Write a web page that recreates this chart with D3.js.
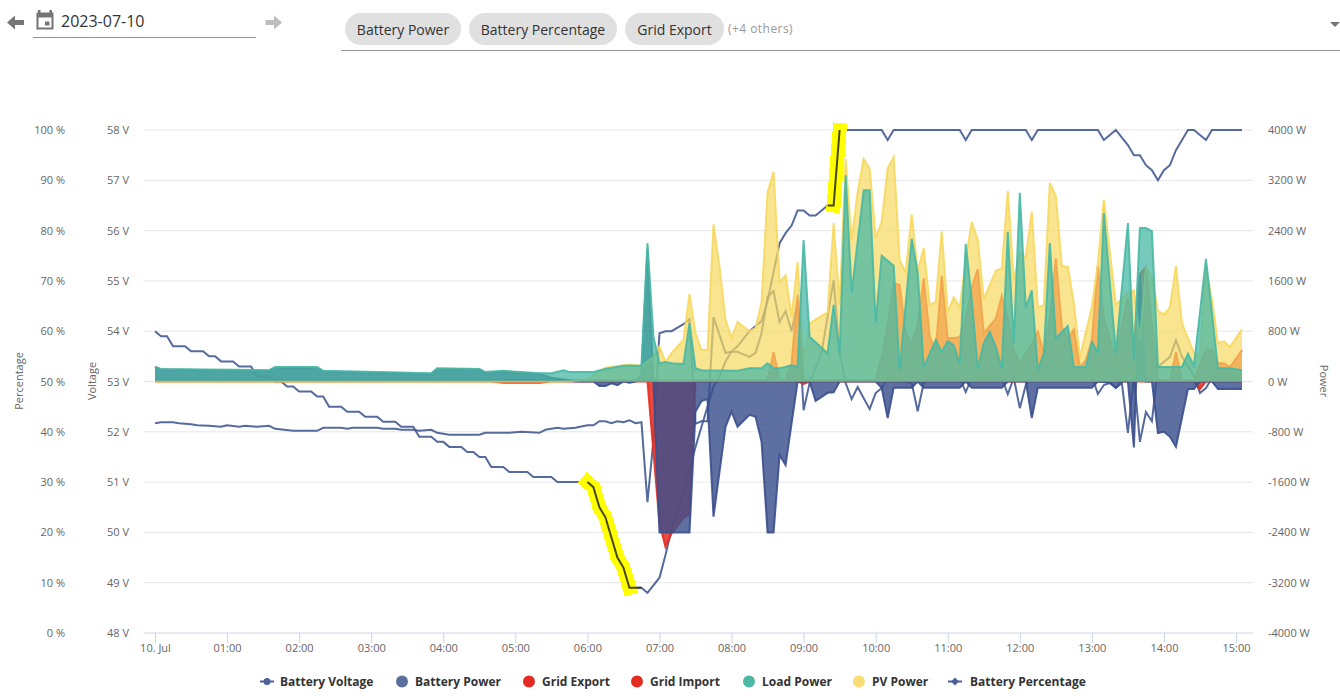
<!DOCTYPE html>
<html>
<head>
<meta charset="utf-8">
<script src="https://cdnjs.cloudflare.com/ajax/libs/d3/7.8.5/d3.min.js"></script>
<style>
html, body { margin: 0; padding: 0; background: #fff; overflow: hidden; }
text { font-family: "Open Sans", sans-serif; }
.axis text { font-size: 11px; fill: #666; }
.axis .domain { display: none; }
.legend text { font-size: 12px; font-weight: 700; fill: #333; }
</style>
</head>
<body>
<div id="chart"></div>
<script>
var selectedDate = '2023-07-10',
    chips = ['Battery Power', 'Battery Percentage', 'Grid Export'],
    othersLabel = '(+4 others)',
    hourLabels = ['10. Jul', '01:00', '02:00', '03:00', '04:00', '05:00', '06:00', '07:00', '08:00', '09:00', '10:00', '11:00', '12:00', '13:00', '14:00', '15:00'],
    percentTicks = [0, 10, 20, 30, 40, 50, 60, 70, 80, 90, 100],
    voltageTicks = [48, 49, 50, 51, 52, 53, 54, 55, 56, 57, 58],
    powerTicks = [-4000, -3200, -2400, -1600, -800, 0, 800, 1600, 2400, 3200, 4000];

// all series are [minutes since midnight, value]
var batteryVoltage = [[0,52.17],[5,52.19],[15,52.19],[20,52.17],[30,52.15],[35,52.13],[45,52.12],[55,52.10],[60,52.13],[70,52.10],[75,52.12],[85,52.10],[95,52.12],[100,52.06],[115,52.02],[135,52.02],[140,52.08],[155,52.08],[160,52.06],[165,52.08],[185,52.08],[190,52.06],[200,52.06],[205,52.04],[215,52.04],[220,52.02],[230,52.04],[235,51.98],[245,51.94],[270,51.94],[275,51.98],[295,51.98],[305,52.0],[320,51.98],[325,52.04],[335,52.08],[340,52.06],[350,52.08],[360,52.13],[365,52.13],[370,52.21],[375,52.21],[380,52.17],[385,52.21],[390,52.19],[395,52.23],[400,52.17],[405,52.19],[410,50.60],[415,51.84],[420,53.96],[425,54.0],[430,54.0],[440,54.14],[445,54.24],[450,52.16],[455,52.21],[460,52.21],[465,54.28],[475,53.57],[480,53.59],[485,53.59],[495,53.49],[500,53.57],[505,53.96],[510,54.68],[515,54.80],[520,54.18],[525,54.40],[530,54.0],[535,54.58],[540,52.43],[545,52.97],[555,53.57],[565,55.02],[570,53.57],[575,52.97],[580,52.65],[585,52.89],[595,52.45],[600,52.77],[605,52.87],[610,53.07],[630,52.97],[635,52.41],[640,52.97],[645,53.07],[670,53.07],[675,52.79],[680,53.07],[705,53.07],[710,52.75],[715,53.07],[720,52.47],[725,52.93],[730,53.11],[780,53.11],[785,52.75],[790,52.93],[795,52.97],[800,52.87],[805,52.97],[810,51.98],[815,53.10],[820,51.80],[825,52.39],[830,52.21],[835,53.29],[845,53.49],[850,53.82],[855,53.49],[865,53.12],[870,52.77],[875,52.87],[880,53.07],[905,53.07]];

var batteryPercentage = [[0,60],[5,59],[10,59],[15,57],[25,57],[30,56],[40,56],[45,55],[50,55],[55,54],[65,54],[70,53],[80,53],[85,51],[95,51],[100,50],[105,50],[110,49],[115,49],[120,48],[130,48],[135,47],[140,47],[145,45],[155,45],[160,44],[170,44],[175,43],[185,43],[190,42],[200,42],[205,41],[215,41],[220,39],[230,39],[235,38],[240,38],[245,37],[255,37],[260,36],[265,36],[270,35],[275,35],[280,33],[290,33],[295,32],[310,32],[315,31],[330,31],[335,30],[360,30],[365,29],[370,25],[375,23],[380,19],[385,15],[390,13],[395,9],[405,9],[410,8],[420,11],[425,15.5],[430,20.5],[435,24.5],[440,28.4],[445,32.4],[450,37],[455,41],[460,45],[465,49],[470,51],[475,54],[480,56],[485,57],[495,60],[505,62],[510,66],[520,77.5],[525,79.5],[530,81],[535,84],[540,84],[545,83],[550,83],[560,85],[565,85],[570,100],[605,100],[610,98],[615,100],[670,100],[675,98],[680,100],[725,100],[730,98],[735,100],[785,100],[790,98],[800,100],[805,98.5],[810,97],[815,95],[820,95],[825,93],[830,92],[835,90],[840,92],[845,93],[850,96],[860,100],[865,100],[875,98],[880,100],[905,100]];

var batteryPower = [[0,230],[5,190],[95,170],[100,220],[135,220],[140,160],[230,120],[235,200],[270,190],[275,140],[290,160],[320,120],[330,60],[345,20],[350,0],[365,0],[370,-70],[375,-70],[380,-30],[385,-60],[390,0],[395,-20],[400,0],[405,120],[410,2100],[415,0],[420,-2400],[445,-2400],[450,-480],[455,-310],[460,-280],[465,-2150],[475,-720],[480,-480],[485,-720],[495,-530],[500,-560],[505,-960],[510,-2400],[515,-2400],[520,-1170],[525,-1330],[535,0],[545,0],[550,-310],[560,-180],[565,-170],[570,0],[600,0],[605,-100],[610,-580],[615,-100],[630,-100],[635,0],[640,-100],[670,-100],[675,0],[680,-100],[705,-100],[710,0],[725,0],[730,-580],[735,-100],[780,-100],[785,0],[795,-20],[800,-100],[805,0],[810,0],[815,-1050],[820,1700],[825,0],[830,0],[835,-820],[840,-800],[845,-880],[850,-1040],[860,-120],[865,-120],[870,0],[880,0],[885,-120],[905,-120]];

var gridExport = [[0,20],[510,20],[515,470],[520,20],[525,20],[530,290],[535,1380],[540,20],[600,20],[605,400],[610,900],[615,1570],[620,1530],[625,770],[630,600],[635,900],[640,1640],[645,710],[650,500],[655,1680],[660,690],[665,690],[670,710],[675,1000],[680,1500],[685,1790],[690,770],[700,1000],[705,1360],[710,1000],[715,500],[720,300],[730,600],[735,790],[740,450],[745,1000],[750,1960],[755,870],[760,660],[765,830],[770,230],[775,340],[780,660],[785,1840],[790,1000],[800,360],[805,900],[810,1340],[815,600],[820,1710],[825,1820],[830,930],[835,20],[845,20],[850,470],[855,20],[865,20],[875,500],[880,500],[885,290],[890,290],[895,230],[905,500]];

var gridImport = [[0,0],[280,0],[290,-20],[320,-20],[330,0],[410,0],[420,-2250],[425,-2630],[430,-2420],[440,-2170],[445,-2110],[450,0],[535,0],[540,-40],[545,0],[865,0],[870,-120],[875,0],[905,0]];

var loadPower = [[0,230],[5,200],[95,180],[100,230],[135,230],[140,170],[230,130],[235,210],[270,200],[275,150],[290,170],[320,130],[330,130],[340,180],[345,150],[365,150],[375,200],[390,250],[405,250],[410,2200],[415,710],[420,290],[425,310],[430,290],[440,280],[445,930],[450,210],[455,180],[485,170],[495,210],[505,210],[510,290],[515,210],[520,210],[525,230],[530,260],[535,230],[540,2250],[545,710],[560,450],[565,1220],[570,450],[575,3280],[580,1410],[590,3040],[595,3040],[600,930],[605,2000],[615,1840],[620,180],[630,2270],[635,1730],[640,230],[650,660],[655,470],[660,640],[665,580],[670,290],[675,2190],[680,1300],[685,210],[690,610],[695,790],[700,550],[705,210],[710,2380],[715,610],[720,3000],[725,1170],[730,1450],[735,180],[740,450],[745,2200],[750,690],[760,880],[765,230],[775,230],[780,630],[785,470],[790,2680],[800,450],[810,2520],[815,340],[820,2440],[825,2440],[830,2390],[835,230],[855,230],[860,440],[865,250],[875,1950],[885,210],[895,210],[905,180]];

var pvPower = [[0,0],[340,0],[360,30],[370,170],[375,220],[395,270],[405,250],[415,390],[420,560],[425,310],[430,450],[440,660],[445,1390],[450,770],[455,500],[460,500],[465,2500],[470,1820],[475,980],[480,690],[485,950],[495,800],[500,850],[505,1260],[510,3010],[515,3330],[520,1580],[525,1690],[530,1030],[535,1900],[540,340],[545,930],[560,1100],[565,2520],[570,1220],[575,3540],[580,2250],[585,3010],[590,3540],[595,3390],[600,2280],[605,2540],[610,3390],[615,3570],[620,1930],[625,1740],[630,2660],[635,1760],[640,2120],[645,1220],[650,1260],[655,2390],[660,1100],[665,1340],[670,1180],[675,1930],[680,2540],[685,2250],[690,1310],[700,1760],[705,1800],[710,3030],[715,1610],[720,2040],[725,1980],[730,2700],[735,1170],[740,1220],[745,3160],[750,2950],[755,1840],[760,1820],[765,1250],[770,390],[780,1180],[785,1880],[790,2890],[800,1220],[810,1410],[815,1450],[820,660],[825,1820],[830,1660],[835,1120],[840,1070],[845,1180],[850,1840],[855,930],[865,450],[870,420],[875,1820],[880,1300],[885,610],[890,640],[895,550],[905,830]];

// minutes of the percentage line that carry the yellow marker, and the darker stretch on it
var markerRanges = [[360, 395], [565, 570]],
    darkRanges = [[360, 405], [560, 570]];

var legendItems = [
    { name: 'Battery Voltage', color: '#4e6098', x: 260, text: 280, line: true, mark: 'circle' },
    { name: 'Battery Power', color: '#5b6f9f', x: 395, text: 415 },
    { name: 'Grid Export', color: '#e32b22', x: 522, text: 542 },
    { name: 'Grid Import', color: '#e32b22', x: 630, text: 650 },
    { name: 'Load Power', color: '#4db8a4', x: 742, text: 762 },
    { name: 'PV Power', color: '#f8dc74', x: 852, text: 872 },
    { name: 'Battery Percentage', color: '#4e6098', x: 948, text: 970, line: true, mark: 'diamond' }
];

var width = 1340, height = 696,
    plotTop = 130, plotBottom = 633, plotLeft = 144, plotRight = 1253;

var svg = d3.select('#chart').append('svg')
    .attr('width', width)
    .attr('height', height)
    .style('display', 'block');

var x = d3.scaleLinear().domain([0, 900]).range([155, 1236]),
    yPercent = d3.scaleLinear().domain([0, 100]).range([plotBottom, plotTop]),
    yVoltage = d3.scaleLinear().domain([48, 58]).range([plotBottom, plotTop]),
    yPower = d3.scaleLinear().domain([-4000, 4000]).range([plotBottom, plotTop]);

// grid
svg.append('g').selectAll('line')
    .data(powerTicks.slice(1))
    .enter().append('line')
    .attr('x1', plotLeft).attr('x2', plotRight)
    .attr('y1', function(d) { return yPower(d); })
    .attr('y2', function(d) { return yPower(d); })
    .attr('stroke', '#e6e6e6');

svg.append('line')
    .attr('x1', plotLeft).attr('x2', plotRight)
    .attr('y1', plotBottom).attr('y2', plotBottom)
    .attr('stroke', '#ccd6eb');

// axes
svg.append('g').attr('class', 'axis')
    .attr('transform', 'translate(0,' + plotBottom + ')')
    .call(d3.axisBottom(x)
        .tickValues(hourLabels.map(function(d, i) { return i * 60; }))
        .tickFormat(function(d, i) { return hourLabels[i]; })
        .tickSize(10).tickPadding(1))
    .selectAll('.tick line').attr('stroke', '#ccd6eb');

svg.append('g').attr('class', 'axis')
    .attr('transform', 'translate(65,0)')
    .call(d3.axisLeft(yPercent).tickValues(percentTicks).tickSize(0).tickPadding(0)
        .tickFormat(function(d) { return d + ' %'; }));

svg.append('g').attr('class', 'axis')
    .attr('transform', 'translate(129,0)')
    .call(d3.axisLeft(yVoltage).tickValues(voltageTicks).tickSize(0).tickPadding(0)
        .tickFormat(function(d) { return d + ' V'; }));

svg.append('g').attr('class', 'axis')
    .attr('transform', 'translate(1268,0)')
    .call(d3.axisRight(yPower).tickValues(powerTicks).tickSize(0).tickPadding(0)
        .tickFormat(function(d) { return d + ' W'; }));

function axisTitle(label, tx, rotate) {
    svg.append('text')
        .attr('transform', 'translate(' + tx + ',381) rotate(' + rotate + ')')
        .attr('text-anchor', 'middle')
        .attr('font-size', 11)
        .attr('fill', '#666')
        .text(label);
}
axisTitle('Percentage', 23, -90);
axisTitle('Voltage', 96, -90);
axisTitle('Power', 1320, 90);

// plain lines sit below the areas
function lineOn(scale) {
    return d3.line()
        .x(function(d) { return x(d[0]); })
        .y(function(d) { return scale(d[1]); });
}

[[batteryVoltage, yVoltage], [batteryPercentage, yPercent]].forEach(function(s) {
    svg.append('path')
        .datum(s[0])
        .attr('d', lineOn(s[1]))
        .attr('fill', 'none')
        .attr('stroke', '#3f5590')
        .attr('stroke-opacity', 0.88)
        .attr('stroke-width', 2);
});

// stacked on top of each other in this order, each one see-through
var areas = [
    { data: gridExport, color: '#e32b22', fill: 0.75 },
    { data: gridImport, color: '#e32b22', fill: 0.85 },
    { data: batteryPower, color: '#3a4f8c', fill: 0.82 },
    { data: pvPower, color: '#f7d860', fill: 0.7 },
    { data: loadPower, color: '#48b8a4', fill: 0.75 }
];

var area = d3.area()
    .x(function(d) { return x(d[0]); })
    .y0(yPower(0))
    .y1(function(d) { return yPower(d[1]); });

areas.forEach(function(s) {
    svg.append('path')
        .datum(s.data)
        .attr('d', area)
        .attr('fill', s.color)
        .attr('fill-opacity', s.fill);
    svg.append('path')
        .datum(s.data)
        .attr('d', lineOn(yPower))
        .attr('fill', 'none')
        .attr('stroke', s.color)
        .attr('stroke-opacity', 0.9)
        .attr('stroke-width', 2);
});

function percentPart(r) {
    return batteryPercentage.filter(function(d) { return d[0] >= r[0] && d[0] <= r[1]; });
}

// marker highlights on the percentage line
markerRanges.forEach(function(r) {
    svg.append('path')
        .datum(percentPart(r))
        .attr('d', lineOn(yPercent))
        .attr('fill', 'none')
        .attr('stroke', '#ffff00')
        .attr('stroke-width', 14)
        .attr('stroke-linecap', 'square')
        .attr('shape-rendering', 'crispEdges');
});
darkRanges.forEach(function(r) {
    svg.append('path')
        .datum(percentPart(r))
        .attr('d', lineOn(yPercent))
        .attr('fill', 'none')
        .attr('stroke', '#333311')
        .attr('stroke-opacity', 0.9)
        .attr('stroke-width', 2);
});

// legend
var legend = svg.append('g').attr('class', 'legend');
legendItems.forEach(function(d) {
    var g = legend.append('g');
    if (d.line) {
        g.append('line')
            .attr('x1', d.x).attr('x2', d.x + 14)
            .attr('y1', 681.5).attr('y2', 681.5)
            .attr('stroke', d.color).attr('stroke-width', 2);
    }
    if (d.mark === 'diamond') {
        g.append('path')
            .attr('transform', 'translate(' + (d.x + 7) + ',681.5)')
            .attr('d', 'M0,-4L4,0L0,4L-4,0Z')
            .attr('fill', d.color);
    } else {
        g.append('circle')
            .attr('cx', d.x + 7).attr('cy', 681.5)
            .attr('r', d.line ? 3.5 : 6)
            .attr('fill', d.color);
    }
    g.append('text').attr('x', d.text).attr('y', 686).text(d.name);
});

// toolbar above the chart
var bar = svg.append('g');

bar.append('path')
    .attr('d', 'M7,22.5L15,15.5V20H24V25H15V29.5Z')
    .attr('fill', '#757575');
bar.append('path')
    .attr('d', 'M282,22.5L274,15.5V20H265.5V25H274V29.5Z')
    .attr('fill', '#bdbdbd');
bar.append('path')
    .attr('fill', '#757575')
    .attr('fill-rule', 'evenodd')
    .attr('d', 'M38,10H40.5V12.5H49.5V10H52V12.5H53.5V29.5H36.5V12.5H38ZM38.5,17.5V27.5H51.5V17.5ZM45,21.5H49.5V25.5H45Z');
bar.append('text')
    .attr('x', 61).attr('y', 26.5)
    .attr('font-size', 16).attr('fill', '#333')
    .text(selectedDate);
bar.append('line')
    .attr('x1', 33).attr('x2', 256).attr('y1', 37.5).attr('y2', 37.5)
    .attr('stroke', '#949494');

var chipBox = [[345, 116], [469, 148], [625, 99]];
chips.forEach(function(label, i) {
    bar.append('rect')
        .attr('x', chipBox[i][0]).attr('y', 13)
        .attr('width', chipBox[i][1]).attr('height', 32)
        .attr('rx', 16)
        .attr('fill', '#e0e0e0');
    bar.append('text')
        .attr('x', chipBox[i][0] + chipBox[i][1] / 2).attr('y', 34.5)
        .attr('text-anchor', 'middle')
        .attr('font-size', 14).attr('fill', '#333')
        .text(label);
});
bar.append('text')
    .attr('x', 728).attr('y', 33)
    .attr('font-size', 12).attr('fill', '#999')
    .attr('letter-spacing', 0.45)
    .text(othersLabel);
bar.append('line')
    .attr('x1', 341).attr('x2', 1340).attr('y1', 50.5).attr('y2', 50.5)
    .attr('stroke', '#949494');
bar.append('path')
    .attr('d', 'M1330,22H1340L1335,27Z')
    .attr('fill', '#757575');
</script>
</body>
</html>
